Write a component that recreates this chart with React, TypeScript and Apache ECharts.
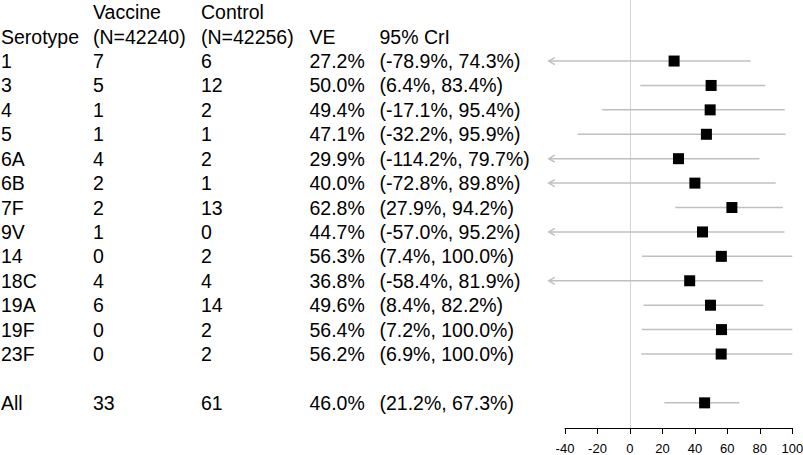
import React, { useEffect, useRef } from "react";
import * as echarts from "echarts";

const SEROTYPES = ["1", "3", "4", "5", "6A", "6B", "7F", "9V", "14", "18C", "19A", "19F", "23F", "All"];
const ROW_POS = [0, 1, 2, 3, 4, 5, 6, 7, 8, 9, 10, 11, 12, 14];
const VACCINE_CASES = [7, 5, 1, 1, 4, 2, 2, 1, 0, 4, 6, 0, 0, 33];
const CONTROL_CASES = [6, 12, 2, 1, 2, 1, 13, 0, 2, 4, 14, 2, 2, 61];
const VE = [27.2, 50.0, 49.4, 47.1, 29.9, 40.0, 62.8, 44.7, 56.3, 36.8, 49.6, 56.4, 56.2, 46.0];
const CRI_LOW = [-78.9, 6.4, -17.1, -32.2, -114.2, -72.8, 27.9, -57.0, 7.4, -58.4, 8.4, 7.2, 6.9, 21.2];
const CRI_HIGH = [74.3, 83.4, 95.4, 95.9, 79.7, 89.8, 94.2, 95.2, 100.0, 81.9, 82.2, 100.0, 100.0, 67.3];
const HEADER_TOP = ["", "Vaccine", "Control", "", ""];
const HEADER = ["Serotype", "(N=42240)", "(N=42256)", "VE", "95% CrI"];
const X_MIN = -40;
const X_MAX = 100;
const X_STEP = 20;
const PLOT_LEFT_LIMIT = -50;

const FONT = "'Liberation Sans', Arial, Helvetica, sans-serif";
const COL_X = [1, 93, 201, 309.5, 379.5];
const TABLE_FONT_SIZE = 19.5;

const tableRows: { p: number; cells: string[] }[] = [
  { p: -2, cells: HEADER_TOP },
  { p: -1, cells: HEADER },
  ...SEROTYPES.map((s, i) => ({
    p: ROW_POS[i],
    cells: [
      s,
      String(VACCINE_CASES[i]),
      String(CONTROL_CASES[i]),
      VE[i].toFixed(1) + "%",
      "(" + CRI_LOW[i].toFixed(1) + "%, " + CRI_HIGH[i].toFixed(1) + "%)",
    ],
  })),
];

export default function App() {
  const ref = useRef<HTMLDivElement>(null);
  useEffect(() => {
    if (!ref.current) return;
    const chart = echarts.init(ref.current, null, { renderer: "svg" });
    const option: any = {
      animation: false,
      backgroundColor: "#ffffff",
      grid: { left: 565, right: 10.7, top: 0, bottom: 27, containLabel: false, outerBoundsMode: "none" },
      xAxis: {
        type: "value",
        min: X_MIN,
        max: X_MAX,
        interval: X_STEP,
        splitLine: { show: false },
        axisLine: { show: true, onZero: false, lineStyle: { color: "#000", width: 1 } },
        axisTick: { show: true, length: 6, lineStyle: { color: "#000", width: 1 } },
        axisLabel: { color: "#000", fontSize: 13, fontFamily: FONT, margin: 14 },
      },
      yAxis: {
        type: "value",
        inverse: true,
        min: -2.5,
        max: 15.03,
        show: false,
      },
      series: [
        {
          type: "custom",
          clip: false,
          silent: true,
          encode: { x: 0, y: 1 },
          data: tableRows.map((r) => [0, r.p]),
          renderItem: (params: any, api: any) => {
            const row = tableRows[params.dataIndex];
            const y = api.coord([0, row.p])[1];
            return {
              type: "group",
              children: row.cells.map((c, j) => ({
                type: "text",
                x: COL_X[j],
                y,
                style: {
                  text: c,
                  fill: "#000",
                  fontSize: TABLE_FONT_SIZE,
                  fontFamily: FONT,
                  textAlign: "left",
                  textVerticalAlign: "middle",
                  align: "left",
                  verticalAlign: "middle",
                },
              })),
            };
          },
        },
        {
          type: "custom",
          clip: false,
          silent: true,
          encode: { x: [0, 1], y: 2 },
          data: CRI_LOW.map((lo, i) => [lo, CRI_HIGH[i], ROW_POS[i]]),
          renderItem: (params: any, api: any) => {
            const lo = api.value(0);
            const hi = api.value(1);
            const p = api.value(2);
            const arrow = lo < PLOT_LEFT_LIMIT;
            const a = api.coord([arrow ? PLOT_LEFT_LIMIT : lo, p]);
            const b = api.coord([hi, p]);
            const stroke = { stroke: "#c0c0c0", lineWidth: 1.5, fill: "none" };
            const children: any[] = [
              { type: "line", shape: { x1: a[0], y1: a[1], x2: b[0], y2: b[1] }, style: stroke },
            ];
            if (arrow) {
              children.push({
                type: "polyline",
                shape: { points: [[a[0] + 6, a[1] - 3.5], [a[0], a[1]], [a[0] + 6, a[1] + 3.5]] },
                style: stroke,
              });
            }
            return { type: "group", children };
          },
        },
        {
          type: "scatter",
          symbol: "rect",
          symbolSize: 11,
          itemStyle: { color: "#000", opacity: 1 },
          silent: true,
          data: VE.map((v, i) => [v, ROW_POS[i]]),
          markLine: {
            silent: true,
            symbol: "none",
            label: { show: false },
            lineStyle: { color: "#d3d3d3", width: 1, type: "solid" },
            data: [{ xAxis: 0 }],
            z: 0,
          },
        },
      ],
    };
    chart.setOption(option);
    return () => chart.dispose();
  }, []);
  return <div ref={ref} style={{ position: "fixed", left: 0, top: 0, width: 803, height: 455 }} />;
}
